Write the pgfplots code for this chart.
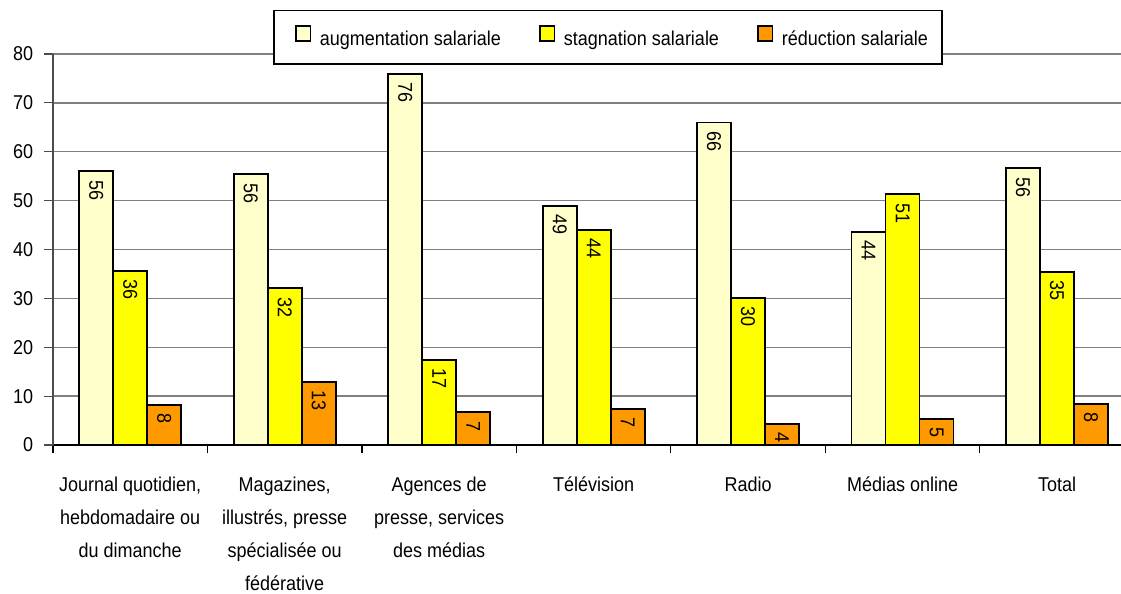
\documentclass[border=0pt]{standalone}
\usepackage{fontspec}
\setmainfont{Liberation Sans}[FakeStretch=0.9]
\usepackage{pgfplots}
\pgfplotsset{compat=1.18}
\usepackage{pgfplotstable}
\definecolor{augc}{HTML}{FFFFCC}
\definecolor{stagc}{HTML}{FFFF00}
\definecolor{redc}{HTML}{FF9900}
\definecolor{gridc}{HTML}{808080}
\pgfplotstableread{
x y lab
0 56.0 56
1 55.4 56
2 75.9 76
3 48.9 49
4 66.0 66
5 43.6 44
6 56.6 56
}\aug
\pgfplotstableread{
x y lab
0 35.6 36
1 32.1 32
2 17.4 17
3 44.0 44
4 30.1 30
5 51.3 51
6 35.4 35
}\stag
\pgfplotstableread{
x y lab
0 8.2 8
1 12.9 13
2 6.7 7
3 7.4 7
4 4.3 4
5 5.3 5
6 8.4 8
}\red
\begin{document}
\begin{tikzpicture}
\begin{axis}[
  scale only axis, width=534bp, height=195.5bp,
  at={(0,0)}, anchor=south west,
  xmin=-0.5, xmax=6.414, ymin=0, ymax=80,
  ybar=0pt, bar width=17bp,
  axis x line*=bottom, axis y line*=left,
  tick pos=left, tick align=outside,
  x axis line style={line width=1bp, black},
  y axis line style={line width=0.6bp, gray!60!black},
  xtick={0,1,2,3,4,5,6},
  xticklabels={{Journal quotidien,\\hebdomadaire ou\\du dimanche},
    {Magazines,\\illustrés, presse\\spécialisée ou\\fédérative},
    {Agences de\\presse, services\\des médias},
    {Télévision},{Radio},{Médias online},{Total}},
  minor xtick={-0.5,0.5,1.5,2.5,3.5,4.5,5.5},
  major x tick style={draw=none},
  minor x tick style={line width=0.6bp, black},
  minor tick length=4bp,
  major tick length=4.5bp,
  major y tick style={line width=0.6bp, gray!60!black},
  ytick={0,10,...,80},
  ymajorgrids,
  grid style={line width=0.7bp, gridc},
  /pgf/number format/assume math mode=true,
  ticklabel style={font=\fontsize{10bp}{12bp}\selectfont},
  xticklabel style={align=center, font=\fontsize{10bp}{16.5bp}\selectfont, anchor=north, yshift=-8bp},
  yticklabel style={inner xsep=5.2bp},
  point meta=explicit symbolic,
  nodes near coords,
  every node near coord/.append style={rotate=-90, anchor=west, inner xsep=4bp, font=\fontsize{10bp}{12bp}\selectfont, black},
  every axis plot/.append style={draw=black, line width=0.9bp},
  legend columns=3,
  legend image code/.code={\path (-3.5bp,0bp); \draw[#1, draw=black, line width=0.8bp] (0bp,-0.3bp) rectangle (7.3bp,7bp);},
  legend style={at={(rel axis cs:0.5197,1.0431)}, anchor=center, draw=black, line width=0.6bp, fill=white,
    font=\fontsize{10bp}{12bp}\selectfont, inner xsep=7bp, inner ysep=7.5bp,
    nodes={inner xsep=0pt, inner ysep=0pt},
    /tikz/every odd column/.append style={column sep=4.3bp},
    /tikz/every even column/.append style={column sep=15.5bp}},
]
\addplot[fill=augc] table[x=x, y=y, meta=lab] {\aug};
\addplot[fill=stagc] table[x=x, y=y, meta=lab] {\stag};
\addplot[fill=redc] table[x=x, y=y, meta=lab] {\red};
\legend{augmentation salariale, stagnation salariale, réduction salariale}
\end{axis}
\pgfresetboundingbox
\path (-26.5bp,-74.5bp) rectangle (534bp,222.5bp);
\end{tikzpicture}
\end{document}
